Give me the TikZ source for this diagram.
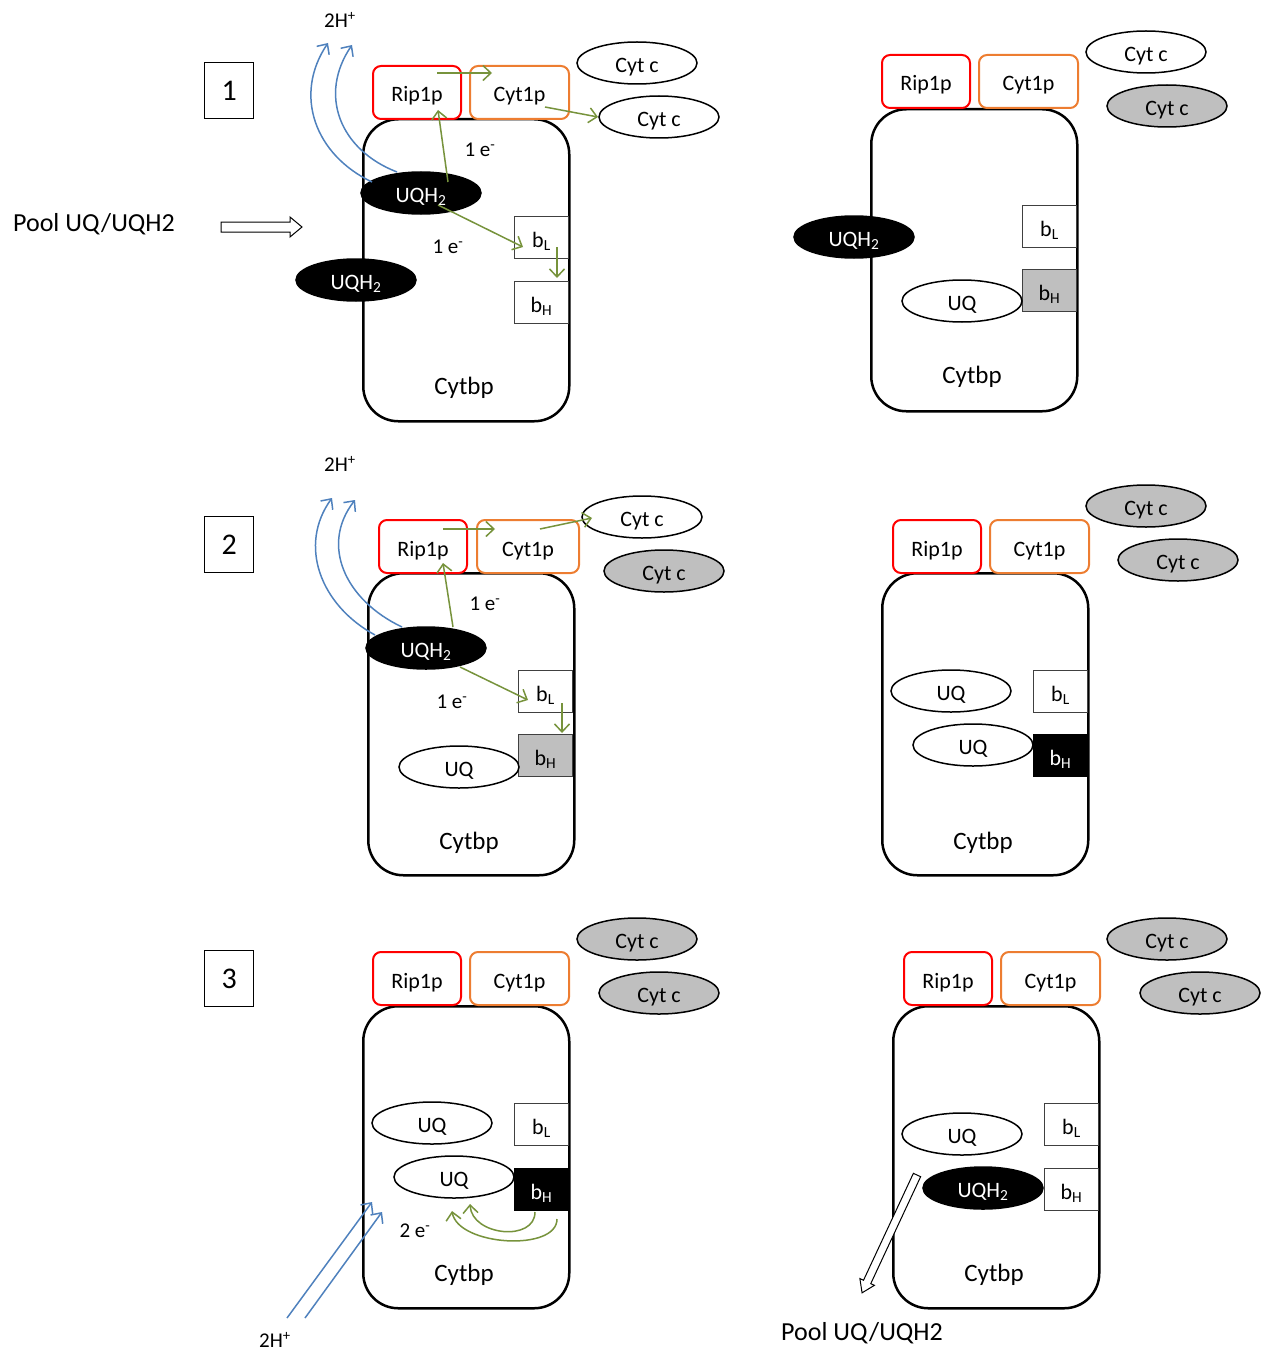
\documentclass[tikz,border=0pt]{standalone}
\usepackage{fontspec}
\setmainfont{Carlito}
\usetikzlibrary{shapes.geometric,arrows.meta}
\definecolor{cgreen}{HTML}{77933C}
\definecolor{cblue}{HTML}{4F81BD}
\definecolor{corange}{HTML}{ED7D31}
\definecolor{cgray}{HTML}{BFBFBF}
\newcommand\hollowarr[5]{%
  \begin{scope}[shift={(#1)}, rotate=#2]
    \draw[hollow] (0,-#4) -- (#3-12,-#4) -- (#3-12,-#5) -- (#3,0) -- (#3-12,#5) -- (#3-12,#4) -- (0,#4) -- cycle;
  \end{scope}}
\tikzset{
  lbl/.style={font=\fontsize{21}{24}\selectfont, inner sep=0pt},
  big/.style={font=\fontsize{25}{28}\selectfont, inner sep=0pt},
  pool/.style={font=\fontsize{26}{29}\selectfont, inner sep=0pt},
  intext/.style={font=\fontsize{22}{25}\selectfont, text height=19pt, text depth=0pt},
  cytb/.style={draw, fill=white, line width=2.5pt, rounded corners=35pt, minimum width=206pt, minimum height=302pt, anchor=north west, inner sep=0pt},
  rip/.style={intext, draw=red, fill=white, line width=2pt, rounded corners=8pt, minimum width=88pt, minimum height=53pt, anchor=north west, inner sep=0pt},
  cytone/.style={rip, draw=corange, minimum width=99pt},
  cytc/.style={intext, ellipse, draw, fill=white, line width=1.5pt, minimum width=120pt, minimum height=42pt, inner sep=0pt},
  cytcg/.style={cytc, fill=cgray},
  uqh/.style={cytc, fill=black, text=white},
  uq/.style={cytc},
  bbox/.style={intext, draw=black!75, fill=white, line width=1pt, minimum width=54pt, minimum height=42pt, anchor=north west, inner sep=0pt},
  bboxg/.style={bbox, fill=cgray},
  bboxk/.style={bbox, draw=black, fill=black, text=white},
  numbox/.style={draw, line width=1.3pt, minimum width=49pt, minimum height=56pt, anchor=north west, font=\fontsize{30}{33}\selectfont},
  garrow/.style={cgreen, line width=1.5pt, -{Straight Barb[length=8pt, width=15pt]}},
  barrow/.style={cblue, line width=1.5pt, -{Straight Barb[length=8pt, width=15pt]}},
  hollow/.style={draw, line width=1pt, fill=white, line join=miter},
}
\begin{document}
\begin{tikzpicture}[x=1pt, y=-1pt]
\useasboundingbox (0,0) rectangle (1268,1351);

% ================= Panel 1 left =================
\node[numbox] (n1) at (204,62) {1};
\node[lbl] (h1) at (340,20) {2H\textsuperscript{+}};
\node[cytb] (cb1) at (362,118) {};
\node[rip] (r1) at (372,65) {Rip1p};
\node[cytone] (c1) at (469,65) {Cyt1p};
\node[cytc] (cc1a) at (637,63) {Cyt c};
\node[cytc] (cc1b) at (659,117) {Cyt c};
\node[uqh] (uh1a) at (421,193) {UQH\textsubscript{2}};
\node[uqh] (uh1b) at (356,280) {UQH\textsubscript{2}};
\node[bbox] (bl1) at (514,216) {b\textsubscript{L}};
\node[bbox] (bh1) at (514,281) {b\textsubscript{H}};
\node[lbl] (e1a) at (480,150) {1 e\textsuperscript{-}};
\node[lbl] (e1b) at (448,247) {1 e\textsuperscript{-}};
\node[big] (t1) at (464,388) {Cytbp};
\node[pool] (p1) at (94,224) {Pool UQ/UQH2};
\coordinate (pa1) at (221,227);
\hollowarr{pa1}{0}{81}{5}{10}

\coordinate (g1a) at (437,73);  \coordinate (g1b) at (492,73);
\coordinate (g1c) at (545,107); \coordinate (g1d) at (598,117);
\coordinate (g1e) at (448,182); \coordinate (g1f) at (438,110);
\coordinate (g1g) at (438,205); \coordinate (g1h) at (523,247);
\coordinate (g1i) at (557,247); \coordinate (g1j) at (557,278);
\draw[garrow] (g1a) -- (g1b);
\draw[garrow] (g1c) -- (g1d);
\draw[garrow] (g1e) -- (g1f);
\draw[garrow] (g1g) -- (g1h);
\draw[garrow] (g1i) -- (g1j);
\coordinate (b1a) at (372,182); \coordinate (b1b) at (328,43);
\coordinate (b1c) at (397,172); \coordinate (b1d) at (352,45);
\draw[barrow] (b1a) .. controls (315,155) and (293,95) .. (b1b);
\draw[barrow] (b1c) .. controls (340,150) and (318,95) .. (b1d);

% ================= Panel 1 right =================
\node[cytb] (cb2) at (870,108) {};
\node[rip] (r2) at (881,54) {Rip1p};
\node[cytone] (c2) at (978,54) {Cyt1p};
\node[cytc] (cc2a) at (1146,52) {Cyt c};
\node[cytcg] (cc2b) at (1167,106) {Cyt c};
\node[uqh] (uh2) at (854,237) {UQH\textsubscript{2}};
\node[bbox] (bl2) at (1022,205) {b\textsubscript{L}};
\node[bboxg] (bh2) at (1022,269) {b\textsubscript{H}};
\node[uq] (uq2) at (962,301) {UQ};
\node[big] (t2) at (972,377) {Cytbp};

% ================= Panel 2 left =================
\node[numbox] (n2) at (204,516) {2};
\node[lbl] (h2) at (340,464) {2H\textsuperscript{+}};
\node[cytb] (cb3) at (367,572) {};
\node[rip] (r3) at (378,519) {Rip1p};
\node[cytone, minimum width=102pt] (c3) at (476,519) {Cyt1p};
\node[cytc] (cc3a) at (642,517) {Cyt c};
\node[cytcg] (cc3b) at (664,571) {Cyt c};
\node[uqh] (uh3) at (426,648) {UQH\textsubscript{2}};
\node[bbox] (bl3) at (518,670) {b\textsubscript{L}};
\node[bboxg] (bh3) at (518,734) {b\textsubscript{H}};
\node[uq] (uq3) at (459,767) {UQ};
\node[lbl] (e3a) at (485,604) {1 e\textsuperscript{-}};
\node[lbl] (e3b) at (452,702) {1 e\textsuperscript{-}};
\node[big] (t3) at (469,843) {Cytbp};

\coordinate (g3a) at (443,529); \coordinate (g3b) at (495,529);
\coordinate (g3c) at (540,529); \coordinate (g3d) at (592,518);
\coordinate (g3e) at (453,627); \coordinate (g3f) at (443,563);
\coordinate (g3g) at (460,667); \coordinate (g3h) at (528,700);
\coordinate (g3i) at (562,703); \coordinate (g3j) at (562,733);
\draw[garrow] (g3a) -- (g3b);
\draw[garrow] (g3c) -- (g3d);
\draw[garrow] (g3e) -- (g3f);
\draw[garrow] (g3g) -- (g3h);
\draw[garrow] (g3i) -- (g3j);
\coordinate (b3a) at (375,635); \coordinate (b3b) at (332,498);
\coordinate (b3c) at (402,627); \coordinate (b3d) at (355,500);
\draw[barrow] (b3a) .. controls (320,605) and (298,545) .. (b3b);
\draw[barrow] (b3c) .. controls (345,600) and (320,545) .. (b3d);

% ================= Panel 2 right =================
\node[cytb] (cb4) at (881,572) {};
\node[rip] (r4) at (892,519) {Rip1p};
\node[cytone] (c4) at (989,519) {Cyt1p};
\node[cytcg] (cc4a) at (1146,506) {Cyt c};
\node[cytcg] (cc4b) at (1178,560) {Cyt c};
\node[uq] (uq4a) at (951,691) {UQ};
\node[uq] (uq4b) at (973,745) {UQ};
\node[bbox] (bl4) at (1033,670) {b\textsubscript{L}};
\node[bboxk] (bh4) at (1033,734) {b\textsubscript{H}};
\node[big] (t4) at (983,843) {Cytbp};

% ================= Panel 3 left =================
\node[numbox] (n3) at (204,950) {3};
\node[cytb] (cb5) at (362,1005) {};
\node[rip] (r5) at (372,951) {Rip1p};
\node[cytone] (c5) at (469,951) {Cyt1p};
\node[cytcg] (cc5a) at (637,939) {Cyt c};
\node[cytcg] (cc5b) at (659,993) {Cyt c};
\node[uq] (uq5a) at (432,1123) {UQ};
\node[uq] (uq5b) at (454,1177) {UQ};
\node[bbox] (bl5) at (514,1103) {b\textsubscript{L}};
\node[bboxk] (bh5) at (514,1168) {b\textsubscript{H}};
\node[lbl] (e5) at (415,1231) {2 e\textsuperscript{-}};
\node[big] (t5) at (464,1275) {Cytbp};
\node[lbl] (h5) at (275,1340) {2H\textsuperscript{+}};

\coordinate (b5a) at (287,1318); \coordinate (b5b) at (372,1202);
\coordinate (b5c) at (305,1318); \coordinate (b5d) at (382,1212);
\draw[barrow] (b5a) -- (b5b);
\draw[barrow] (b5c) -- (b5d);
\coordinate (g5a) at (535,1212); \coordinate (g5b) at (470,1204);
\coordinate (g5c) at (557,1219); \coordinate (g5d) at (452,1211);
\draw[garrow] (g5a) .. controls (535,1242) and (472,1236) .. (g5b);
\draw[garrow] (g5c) .. controls (557,1252) and (458,1246) .. (g5d);

% ================= Panel 3 right =================
\node[cytb] (cb6) at (892,1005) {};
\node[rip] (r6) at (903,951) {Rip1p};
\node[cytone] (c6) at (1000,951) {Cyt1p};
\node[cytcg] (cc6a) at (1167,939) {Cyt c};
\node[cytcg] (cc6b) at (1200,993) {Cyt c};
\node[uq] (uq6) at (962,1134) {UQ};
\node[uqh] (uh6) at (983,1188) {UQH\textsubscript{2}};
\node[bbox] (bl6) at (1044,1103) {b\textsubscript{L}};
\node[bbox] (bh6) at (1044,1168) {b\textsubscript{H}};
\node[big] (t6) at (994,1275) {Cytbp};
\node[pool] (p6) at (862,1333) {Pool UQ/UQH2};
\coordinate (pa6) at (917,1175);
\hollowarr{pa6}{-115}{130}{4}{8}
\end{tikzpicture}
\end{document}
